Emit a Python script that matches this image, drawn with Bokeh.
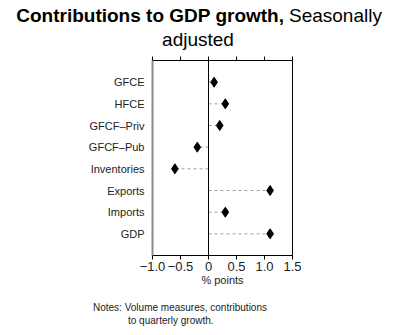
from bokeh.plotting import figure
from bokeh.models import LinearAxis, FixedTicker, FactorRange, Range1d, Span, CategoricalAxis, Div
from bokeh.layouts import column
from bokeh.embed import file_html
from bokeh.resources import INLINE

categories = ["GFCE", "HFCE", "GFCF\u2013Priv", "GFCF\u2013Pub", "Inventories", "Exports", "Imports", "GDP"]
values = [0.1, 0.3, 0.2, -0.2, -0.6, 1.1, 0.3, 1.1]
x_ticks = [-1.0, -0.5, 0.0, 0.5, 1.0, 1.5]
x_tick_labels = {-1.0: "\u22121.0", -0.5: "\u22120.5", 0.0: "0", 0.5: "0.5", 1.0: "1.0", 1.5: "1.5"}
title_bold = "Contributions to GDP growth,"
title_normal = "Seasonally"
title_line2 = "adjusted"
notes_line1 = "Notes: Volume measures, contributions"
notes_line2 = "to quarterly growth."

FONT = "Liberation Sans"
W = 407
H_TITLE = 50
H_MAIN = 250
H_NOTES = 35

# ---- title ----
title_html = (
    f'<div style="position:relative;width:{W}px;height:{H_TITLE}px;font-family:\'{FONT}\';'
    f'font-size:19px;line-height:19px;color:#000;">'
    f'<span style="position:absolute;top:6px;right:{W - 284}px;font-weight:bold;white-space:nowrap;">{title_bold}</span>'
    f'<span style="position:absolute;top:6px;left:289px;white-space:nowrap;">{title_normal}</span>'
    f'<span style="position:absolute;top:30px;left:0px;width:396px;text-align:center;white-space:nowrap;">{title_line2}</span>'
    f'</div>'
)
pt = Div(text=title_html, width=W, height=H_TITLE, styles={"margin": "0", "padding": "0"})

# ---- main chart ----
p = figure(width=W, height=H_MAIN, output_backend="svg", toolbar_location=None,
           x_range=Range1d(-1.0, 1.5),
           y_range=FactorRange(factors=list(reversed(categories)), range_padding=0.125),
           min_border_left=152, min_border_right=115, min_border_top=10, min_border_bottom=45,
           x_axis_location=None, y_axis_location=None)
p.grid.visible = False
p.outline_line_color = "black"
p.outline_line_width = 1
p.background_fill_color = "white"
p.border_fill_color = "white"

yax = CategoricalAxis()
yax.axis_line_color = "#8a8a8a"
yax.axis_line_width = 2
yax.major_tick_line_color = None
yax.minor_tick_line_color = None
yax.major_label_text_font = FONT
yax.major_label_text_font_size = "11px"
yax.major_label_text_color = "#222222"
yax.major_label_standoff = 2
p.add_layout(yax, "left")

xax = LinearAxis(ticker=FixedTicker(ticks=x_ticks), major_label_overrides=x_tick_labels)
xax.axis_label = "% points"
xax.axis_label_text_font = FONT
xax.axis_label_text_font_style = "normal"
xax.axis_label_text_font_size = "11px"
xax.axis_label_text_color = "#222222"
xax.axis_label_standoff = 0
xax.major_label_text_font = FONT
xax.major_label_text_font_size = "13px"
xax.major_label_text_color = "#222222"
xax.major_label_standoff = 2
xax.major_tick_out = 4
xax.major_tick_in = 0
xax.minor_tick_line_color = None
xax.axis_line_color = "black"
p.add_layout(xax, "below")

tax = LinearAxis(ticker=FixedTicker(ticks=x_ticks),
                 major_label_overrides={t: "" for t in x_ticks})
tax.major_label_text_font_size = "1px"
tax.major_label_standoff = 0
tax.major_tick_out = 4
tax.major_tick_in = 0
tax.minor_tick_line_color = None
tax.axis_line_color = "black"
p.add_layout(tax, "above")

p.add_layout(Span(location=0, dimension="height", line_color="black", line_width=1))

zeros = [0] * len(values)
p.segment(x0=zeros, x1=values, y0=categories, y1=categories,
          line_color="#a0a0a0", line_width=1, line_dash="3 3")
p.scatter(x=values, y=categories, marker="diamond", size=10, fill_color="black", line_color="black")

# ---- notes ----
notes_html = (
    f'<div style="position:relative;width:{W}px;height:{H_NOTES}px;font-family:\'{FONT}\';'
    f'font-size:10px;line-height:10px;color:#222;">'
    f'<span style="position:absolute;top:3px;left:93px;white-space:nowrap;">{notes_line1}</span>'
    f'<span style="position:absolute;top:16px;left:128px;white-space:nowrap;">{notes_line2}</span>'
    f'</div>'
)
pn = Div(text=notes_html, width=W, height=H_NOTES, styles={"margin": "0", "padding": "0"})

layout = column(pt, p, pn, spacing=0)
open("out.html", "w").write(file_html(layout, INLINE))
